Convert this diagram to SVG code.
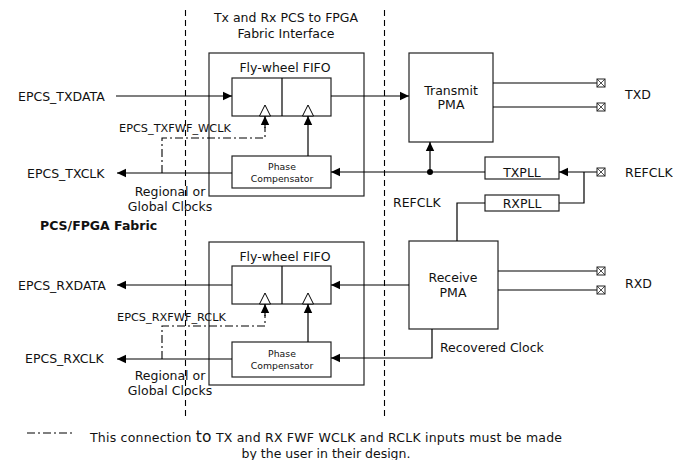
<svg xmlns="http://www.w3.org/2000/svg" width="673" height="460" viewBox="0 0 673 460">
<defs>
<marker id="ah" markerWidth="10" markerHeight="10" refX="9" refY="5" orient="auto" markerUnits="userSpaceOnUse">
<path d="M0,0.8 L9,5 L0,9.2 Z" fill="#000"/>
</marker>
<g id="pin">
<rect x="-4" y="-4" width="8" height="8" fill="#fff" stroke="#222" stroke-width="1"/>
<path d="M-4,-4 L4,4 M4,-4 L-4,4" stroke="#222" stroke-width="0.8"/>
</g>
</defs>
<style>
text{font-family:"DejaVu Sans","Verdana",sans-serif;font-size:12.5px;fill:#111}
.s{font-size:11.3px}
.xs{font-size:9.3px}
.b{font-weight:bold}
.m{text-anchor:middle}
.box{fill:#fff;stroke:#222;stroke-width:1.2}
.ln{fill:none;stroke:#000;stroke-width:1.2}
.arr{fill:none;stroke:#000;stroke-width:1.2;marker-end:url(#ah)}
.dd{fill:none;stroke:#000;stroke-width:1.1;stroke-dasharray:8,3,2,3}
.dsh{fill:none;stroke:#000;stroke-width:1.1;stroke-dasharray:6,4}
.tri{fill:#fff;stroke:#000;stroke-width:1}
</style>
<rect width="673" height="460" fill="#fff"/>

<g id="boundaries">
<line class="dsh" x1="185.5" y1="10" x2="185.5" y2="418"/>
<line class="dsh" x1="384.5" y1="10" x2="384.5" y2="420"/>
</g>

<g id="title">
<text class="m" x="286" y="21.5">Tx and Rx PCS to FPGA</text>
<text class="m" x="286" y="37.5">Fabric Interface</text>
</g>

<g id="tx-interface">
<rect class="box" x="209" y="53" width="155" height="143"/>
<text class="m" x="285" y="71.5">Fly-wheel FIFO</text>
</g>
<g id="tx-fifo">
<rect class="box" x="232" y="78" width="99" height="38"/>
<line class="ln" x1="282" y1="78" x2="282" y2="116"/>
<path class="tri" d="M259.5,116 L265,105 L270.5,116 Z"/>
<path class="tri" d="M302.5,116 L308,105 L313.5,116 Z"/>
</g>
<g id="tx-phase">
<rect class="box" x="232" y="156" width="99" height="32"/>
<text class="m xs" x="282" y="170">Phase</text>
<text class="m xs" x="282" y="181.5">Compensator</text>
</g>
<g id="transmit-pma">
<rect class="box" x="409" y="53" width="84" height="89"/>
<text class="m" x="451" y="94.5">Transmit</text>
<text class="m" x="451" y="109">PMA</text>
</g>
<g id="txpll">
<rect class="box" x="485" y="157" width="74" height="22"/>
<text class="m" x="522" y="176.5">TXPLL</text>
</g>
<g id="rxpll">
<rect class="box" x="485" y="195" width="74" height="16"/>
<text class="m" x="522" y="207.5">RXPLL</text>
</g>

<g id="rx-interface">
<rect class="box" x="209" y="242" width="155" height="143"/>
<text class="m" x="285" y="260.5">Fly-wheel FIFO</text>
</g>
<g id="rx-fifo">
<rect class="box" x="232" y="266" width="99" height="38"/>
<line class="ln" x1="282" y1="266" x2="282" y2="304"/>
<path class="tri" d="M259.5,304 L265,293 L270.5,304 Z"/>
<path class="tri" d="M302.5,304 L308,293 L313.5,304 Z"/>
</g>
<g id="rx-phase">
<rect class="box" x="232" y="342" width="99" height="35"/>
<text class="m xs" x="282" y="356.5">Phase</text>
<text class="m xs" x="282" y="368.5">Compensator</text>
</g>
<g id="receive-pma">
<rect class="box" x="409" y="241" width="89" height="88"/>
<text class="m" x="453" y="281.5">Receive</text>
<text class="m" x="453" y="297">PMA</text>
</g>

<g id="connectors">
<line class="arr" x1="116" y1="96" x2="232" y2="96"/>
<line class="arr" x1="331" y1="96" x2="409" y2="96"/>
<line class="ln" x1="493" y1="83" x2="597" y2="83"/>
<line class="ln" x1="493" y1="107" x2="597" y2="107"/>
<line class="arr" x1="597" y1="172" x2="559" y2="172"/>
<polyline class="ln" points="584,172 584,203 559,203"/>
<line class="arr" x1="485" y1="172" x2="331" y2="172"/>
<line class="arr" x1="430" y1="172" x2="430" y2="142"/>
<circle cx="430" cy="172" r="3" fill="#000"/>
<line class="arr" x1="308" y1="156" x2="308" y2="116"/>
<line class="arr" x1="232" y1="173" x2="117" y2="173"/>
<polyline class="dd" points="162,173 162,138 265,138 265,127"/>
<line class="arr" x1="265" y1="128" x2="265" y2="116"/>
<polyline class="ln" points="485,203 457,203 457,241"/>
<line class="arr" x1="409" y1="285" x2="331" y2="285"/>
<line class="arr" x1="232" y1="285" x2="117" y2="285"/>
<line class="arr" x1="308" y1="342" x2="308" y2="304"/>
<line class="arr" x1="232" y1="359" x2="117" y2="359"/>
<polyline class="dd" points="162,359 162,326 265,326 265,315"/>
<line class="arr" x1="265" y1="316" x2="265" y2="304"/>
<polyline class="arr" points="432,329 432,358 331,358"/>
<line class="ln" x1="498" y1="271" x2="597" y2="271"/>
<line class="ln" x1="498" y1="290" x2="597" y2="290"/>
</g>

<g id="pins">
<use href="#pin" x="601" y="83"/>
<use href="#pin" x="601" y="107"/>
<use href="#pin" x="601" y="172"/>
<use href="#pin" x="601" y="271"/>
<use href="#pin" x="601" y="290"/>
</g>

<g id="labels">
<text x="18" y="100.5">EPCS_TXDATA</text>
<text class="s" x="119" y="132">EPCS_TXFWF_WCLK</text>
<text x="27" y="177.5">EPCS_TXCLK</text>
<text class="m" x="170" y="196">Regional or</text>
<text class="m" x="170" y="210.5">Global Clocks</text>
<text class="b" x="40" y="230">PCS/FPGA Fabric</text>
<text x="625" y="99">TXD</text>
<text x="625" y="176.5">REFCLK</text>
<text x="393" y="206.5">REFCLK</text>
<text x="18" y="289.5">EPCS_RXDATA</text>
<text class="s" x="117" y="321">EPCS_RXFWF_RCLK</text>
<text x="25" y="363">EPCS_RXCLK</text>
<text class="m" x="170" y="379.5">Regional or</text>
<text class="m" x="170" y="394.5">Global Clocks</text>
<text x="625" y="287.5">RXD</text>
<text x="440" y="351.5">Recovered Clock</text>
</g>

<g id="legend">
<line class="dd" x1="27" y1="433" x2="74" y2="433"/>
<text x="90" y="442" textLength="472" lengthAdjust="spacing">This connection <tspan style="font-size:15.5px">to</tspan> TX and RX FWF WCLK and RCLK inputs must be made</text>
<text class="m" x="326" y="458">by the user in their design.</text>
</g>
</svg>
